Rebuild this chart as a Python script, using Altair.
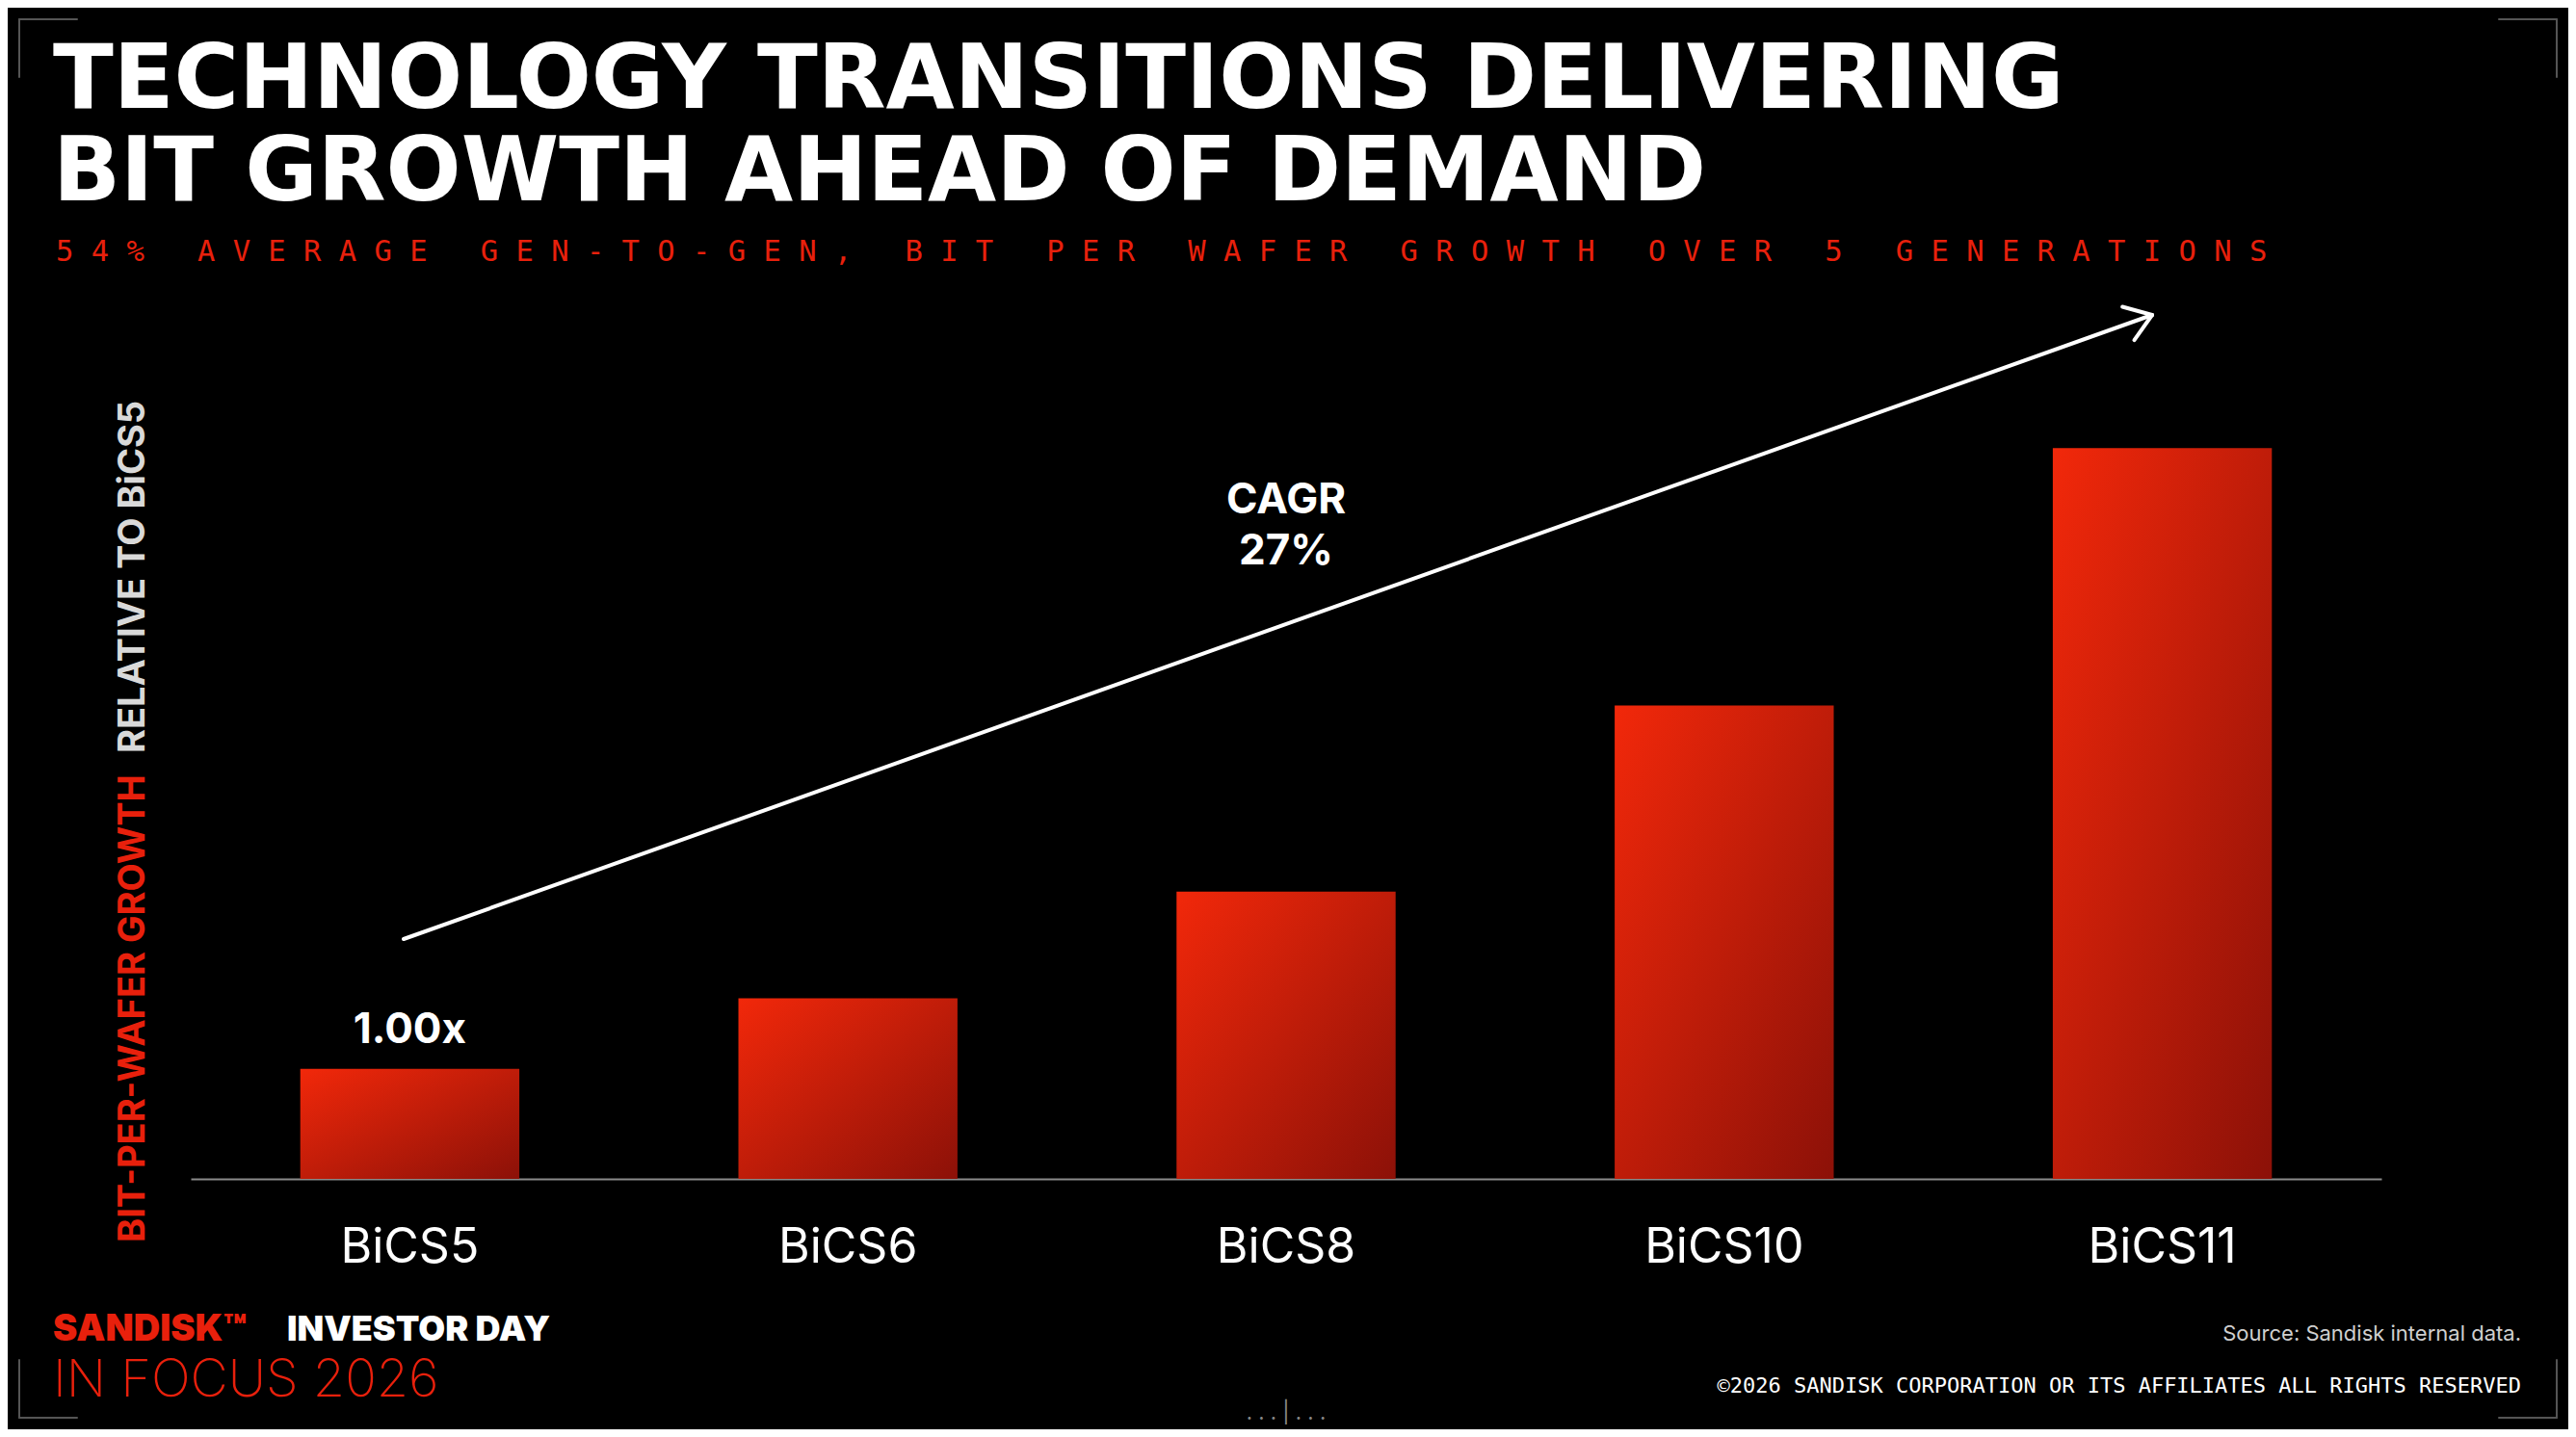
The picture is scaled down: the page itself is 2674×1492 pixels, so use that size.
import altair as alt
import pandas as pd
import math

categories = ["BiCS5", "BiCS6", "BiCS8", "BiCS10", "BiCS11"]
values = [1.00, 1.64, 2.61, 4.30, 6.64]
bar_label = "1.00x"

df = pd.DataFrame({"gen": categories, "v": values})
W, H = 2658, 1216
F = "Inter"
NB = "\u00a0"

base = alt.Chart(df)
x = alt.X("gen:N", sort=categories, title=None,
          scale=alt.Scale(range=[190, 2464], paddingInner=0.5, paddingOuter=0.25),
          axis=alt.Axis(labelAngle=0, labelFontSize=50, labelColor="white", labelFont=F,
                        labelPadding=46, ticks=False, domainColor="#8a8a8a", domainWidth=2,
                        offset=0))
y = alt.Y("v:Q", scale=alt.Scale(domain=[0, 10.64], range=[H, 0]), axis=None)

bars = base.mark_bar(
    fill=alt.Gradient(gradient="linear", x1=0, y1=0, x2=1, y2=1,
                      stops=[alt.GradientStop(offset=0, color="#f2280a"),
                             alt.GradientStop(offset=1, color="#8c1108")])
).encode(x=x, y=y)

lbl = base.transform_filter(alt.datum.gen == "BiCS5").mark_text(
    text=bar_label, dy=-40, fontSize=44, fontWeight="bold", color="white", font=F
).encode(x=x, y=y)

def tx(t, xx, yy, size, color="white", weight="normal", align="left", font=F, angle=0, baseline="alphabetic"):
    return alt.Chart(pd.DataFrame({"a": [0]})).mark_text(
        text=t, fontSize=size, color=color, fontWeight=weight, align=align, font=font,
        angle=angle, baseline=baseline
    ).encode(x=alt.value(xx), y=alt.value(yy))

def rule(x1, y1, x2, y2, color="white", w=4):
    return alt.Chart(pd.DataFrame({"a": [0]})).mark_rule(color=color, strokeWidth=w, strokeCap="round").encode(
        x=alt.value(x1), y=alt.value(y1), x2=alt.value(x2), y2=alt.value(y2))

layers = [bars, lbl]
layers.append(tx("TECHNOLOGY TRANSITIONS DELIVERING", 47, 104, 92, weight="bold", font="DejaVu Sans"))
layers.append(tx("BIT GROWTH AHEAD OF DEMAND", 47, 200, 92, weight="bold", font="DejaVu Sans"))
sub = "54% AVERAGE GEN-TO-GEN, BIT PER WAFER GROWTH OVER 5 GENERATIONS"
layers.append(tx(NB.join(sub.replace(" ", NB)), 50, 263, 30.5, color="#e8200c", font="DejaVu Sans Mono"))
layers.append(tx("BIT-PER-WAFER GROWTH", 142, 1282, 38, color="#e8200c", weight="bold", angle=270))
layers.append(tx("RELATIVE TO BiCS5", 142, 774, 38, color="#d9d9d9", weight="bold", angle=270))
layers.append(tx("CAGR", 1327, 525, 44, weight="bold", align="center"))
layers.append(tx("27%", 1327, 578, 44, weight="bold", align="center"))

# arrow
x1, y1, x2, y2 = 411, 967, 2226, 319
layers.append(rule(x1, y1, x2, y2))
ang = math.atan2(y1 - y2, x1 - x2)
for s in (-1, 1):
    a = ang + s * math.radians(35)
    layers.append(rule(x2, y2, x2 + 32 * math.cos(a), y2 + 32 * math.sin(a)))

# footer
layers.append(tx("SANDISK™", 47, 1384, 38, color="#e8200c", weight=900))
layers.append(tx("INVESTOR DAY", 290, 1384, 36, color="white", weight=900))
layers.append(tx("IN FOCUS 2026", 47, 1442, 54, color="#e8200c", weight=200))
layers.append(tx("Source: Sandisk internal data.", 2609, 1384, 22, color="#cfcfcf", align="right"))
layers.append(tx("©2026 SANDISK CORPORATION OR ITS AFFILIATES ALL RIGHTS RESERVED", 2609, 1438, 22,
                 color="white", align="right", font="DejaVu Sans Mono"))
layers.append(tx(". . . | . . .", 1327, 1466, 22, color="#888888", align="center"))

# corner brackets
g = "#555555"
for (cx, cy, dx, dy) in [(12, 12, 1, 1), (2646, 12, -1, 1), (12, 1464, 1, -1), (2646, 1464, -1, -1)]:
    layers.append(rule(cx, cy, cx + 60 * dx, cy, color=g, w=2))
    layers.append(rule(cx, cy, cx, cy + 60 * dy, color=g, w=2))

chart = alt.layer(*layers).properties(
    width=W, height=H, background="black",
    autosize=alt.AutoSizeParams(type="none"),
    padding={"left": 0, "top": 0, "right": 0, "bottom": 260}
).configure_view(stroke=None)

chart.save("out.html", embed_options={"renderer": "svg", "actions": False})
